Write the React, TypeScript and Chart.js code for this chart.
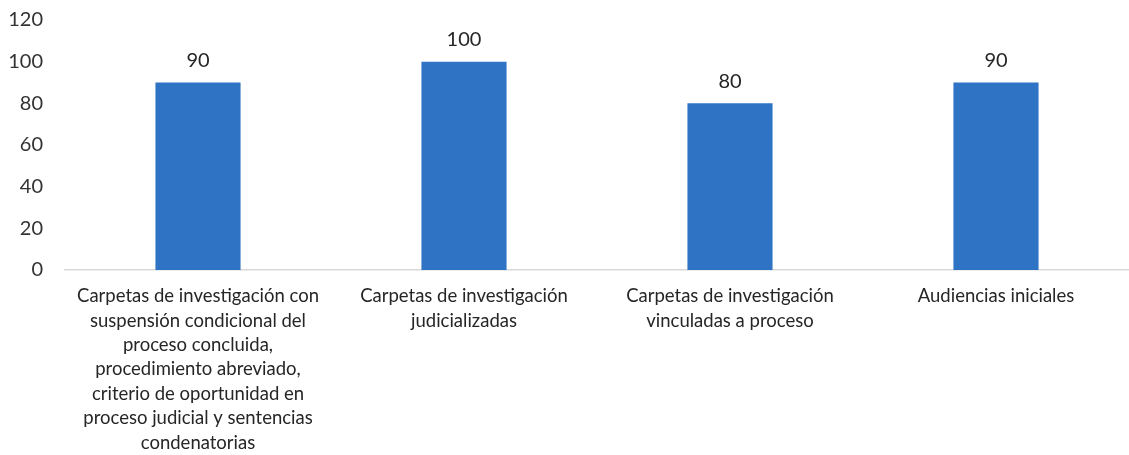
import React, { useEffect, useRef } from "react";
import { Chart, registerables } from "chart.js";

Chart.register(...registerables);

const categories: string[][] = [
  [
    "Carpetas de investigación con",
    "suspensión condicional del",
    "proceso concluida,",
    "procedimiento abreviado,",
    "criterio de oportunidad en",
    "proceso judicial y sentencias",
    "condenatorias",
  ],
  ["Carpetas de investigación", "judicializadas"],
  ["Carpetas de investigación", "vinculadas a proceso"],
  ["Audiencias iniciales"],
];
const values: number[] = [90, 100, 80, 90];
const yTicks: number[] = [0, 20, 40, 60, 80, 100, 120];

const FONT = "Lato, 'Open Sans', sans-serif";

const valueLabels = {
  id: "valueLabels",
  afterDatasetsDraw(chart: any) {
    const ctx = chart.ctx;
    const meta = chart.getDatasetMeta(0);
    ctx.save();
    ctx.font = `20px ${FONT}`;
    ctx.fillStyle = "#262626";
    ctx.textAlign = "center";
    ctx.textBaseline = "bottom";
    meta.data.forEach((bar: any, i: number) => {
      ctx.fillText(String(values[i]), bar.x, bar.y - 12);
    });
    ctx.restore();
  },
};

export default function App() {
  const ref = useRef<HTMLCanvasElement>(null);
  useEffect(() => {
    document.body.style.margin = "0";
    const chart = new Chart(ref.current!, {
      type: "bar",
      data: {
        labels: categories,
        datasets: [
          {
            data: values,
            backgroundColor: "#2F73C5",
            barPercentage: 0.32,
            categoryPercentage: 1,
          },
        ],
      },
      options: {
        animation: false,
        responsive: true,
        maintainAspectRatio: false,
        layout: { padding: { top: 20, right: 0, left: 6, bottom: 0 } },
        plugins: { legend: { display: false }, tooltip: { enabled: false } },
        scales: {
          x: {
            grid: { display: false, drawTicks: false },
            border: { display: true, color: "#d9d9d9", width: 1.5 },
            afterFit: (axis: any) => {
              axis.height = 185;
              axis.paddingLeft = 0;
              axis.paddingRight = 0;
              axis.paddingTop = 0;
              axis.paddingBottom = 0;
            },
            ticks: {
              color: "#262626",
              font: { family: FONT, size: 18.5, lineHeight: 1.32 },
              maxRotation: 0,
              autoSkip: false,
              padding: 14,
            },
          },
          y: {
            min: 0,
            max: 120,
            afterBuildTicks: (axis: any) => {
              axis.ticks = yTicks.map((v) => ({ value: v }));
            },
            afterFit: (axis: any) => {
              axis.width = 59;
              axis.paddingTop = 0;
              axis.paddingBottom = 0;
            },
            grid: { display: false, drawTicks: false },
            border: { display: false },
            ticks: {
              color: "#333333",
              font: { family: FONT, size: 20 },
              padding: 22,
            },
          },
        },
      },
      plugins: [valueLabels],
    });
    return () => chart.destroy();
  }, []);
  return (
    <div style={{ width: 1129, height: 455, position: "relative" }}>
      <canvas ref={ref} />
    </div>
  );
}
